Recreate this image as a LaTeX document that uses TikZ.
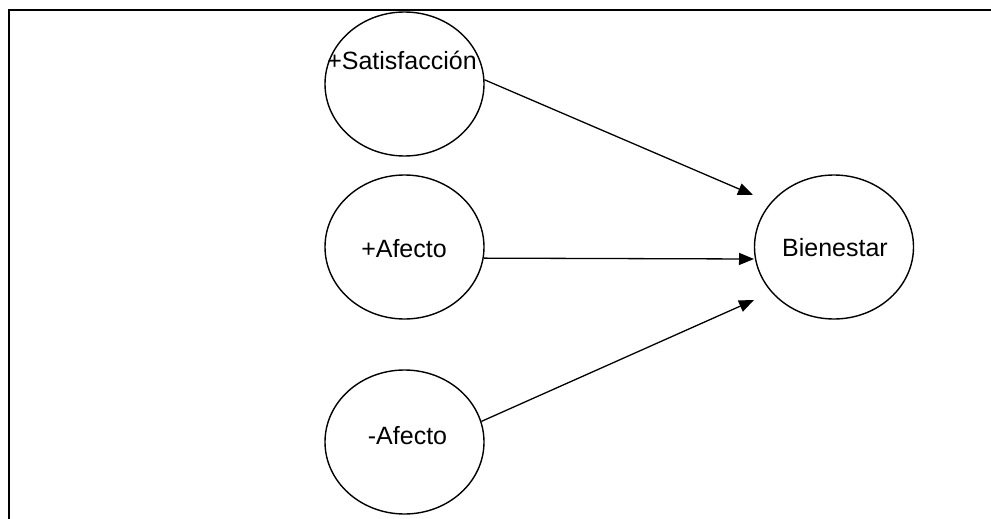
\documentclass[tikz,border=0pt]{standalone}
\usepackage{fontspec}
\setmainfont{Liberation Sans}
\usetikzlibrary{shapes.geometric,arrows.meta}
\begin{document}
\begin{tikzpicture}[x=1pt,y=-1pt,
  oval/.style={draw,ellipse,line width=1.4pt,minimum width=159pt,minimum height=144pt,inner sep=0pt},
  txt/.style={inner sep=0pt,font=\fontsize{25}{29}\selectfont},
  conn/.style={line width=1.3pt,-{Triangle[length=15pt,width=12pt]}}]
\useasboundingbox (0,0) rectangle (991,519);
\draw[line width=2.2pt] (9,519) -- (9,10) -- (991,10);
\node[oval] (sat) at (404.5,84) {};
\node[oval] (paf) at (404.5,247) {};
\node[oval] (naf) at (404.5,442) {};
\node[oval] (bien) at (834,247) {};
\node[txt] (satl) at (402,60) {+Satisfacción};
\node[txt] (pafl) at (404,249) {+Afecto};
\node[txt] (nafl) at (407.5,436) {-Afecto};
\node[txt] (bienl) at (835,248) {Bienestar};
\coordinate (t1) at (753,195);
\coordinate (t2) at (754,259);
\coordinate (t3) at (754,300);
\draw[conn] (sat.3) -- (t1);
\draw[conn] (paf.-8.6) -- (t2);
\draw[conn] (naf.15) -- (t3);
\end{tikzpicture}
\end{document}
